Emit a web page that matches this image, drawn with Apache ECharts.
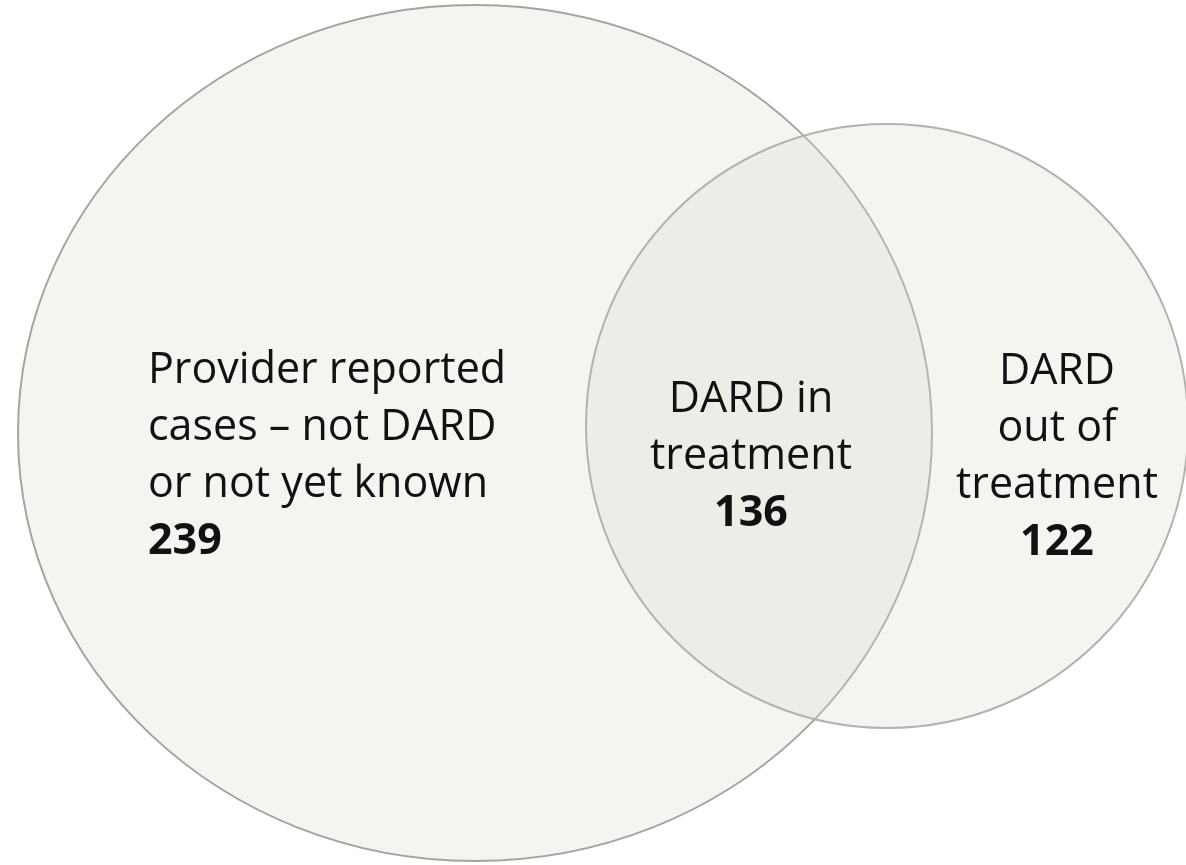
<!DOCTYPE html>
<html>
<head>
<meta charset="utf-8">
<script src="https://cdn.jsdelivr.net/npm/echarts@6/dist/echarts.min.js"></script>
<style>
  html, body { margin: 0; padding: 0; background: #ffffff; }
  #venn { width: 1186px; height: 865px; }
</style>
</head>
<body>
<div id="venn"></div>
<script>
// region texts and counts
const regionNames = [
  ['Provider reported', 'cases – not DARD', 'or not yet known'],
  ['DARD in', 'treatment'],
  ['DARD', 'out of', 'treatment']
];
const regionCounts = [239, 136, 122];

// set outlines, plot units: [cx, cy, rx, ry]
const setShapes = [
  [475, 433, 457, 428],
  [887, 426, 301, 302]
];
// where each region's text sits
const labelAnchors = [[148, 456], [751, 457], [1057, 457]];
const labelAligns = ['left', 'center', 'center'];

const strokes = ['#a5a49f', '#b3b2ad'];
const fontName = 'Open Sans';

let chart = echarts.init(document.getElementById('venn'));

function labelText(i) {
  let lines = regionNames[i].map(l => '{t|' + l + '}');
  lines.push('{n|' + regionCounts[i] + '}');
  return lines.join('\n');
}

const option = {
  animation: false,
  backgroundColor: '#ffffff',
  grid: { left: 0, right: 0, top: 0, bottom: 0 },
  xAxis: { type: 'value', min: 0, max: 1186, show: false },
  yAxis: { type: 'value', min: 0, max: 865, inverse: true, show: false },
  series: [
    {
      type: 'custom',
      coordinateSystem: 'cartesian2d',
      data: setShapes,
      renderItem(params, api) {
        const c = api.coord([api.value(0), api.value(1)]);
        const s = api.size([api.value(2), api.value(3)]);
        return {
          type: 'ellipse',
          shape: { cx: c[0], cy: c[1], rx: s[0], ry: s[1] },
          style: {
            fill: 'rgba(222,218,210,0.3)',
            stroke: strokes[params.dataIndex],
            lineWidth: 2
          }
        };
      }
    },
    {
      type: 'custom',
      coordinateSystem: 'cartesian2d',
      data: labelAnchors,
      z: 5,
      renderItem(params, api) {
        const c = api.coord([api.value(0), api.value(1)]);
        const i = params.dataIndex;
        return {
          type: 'text',
          x: c[0],
          y: c[1],
          style: {
            text: labelText(i),
            align: labelAligns[i],
            verticalAlign: 'middle',
            rich: {
              t: { fontFamily: fontName, fontSize: 43, lineHeight: 57, fill: '#111111', align: labelAligns[i] },
              n: { fontFamily: fontName, fontSize: 43, lineHeight: 57, fontWeight: 'bold', fill: '#111111', align: labelAligns[i] }
            }
          }
        };
      }
    }
  ]
};

chart.setOption(option);
</script>
</body>
</html>
